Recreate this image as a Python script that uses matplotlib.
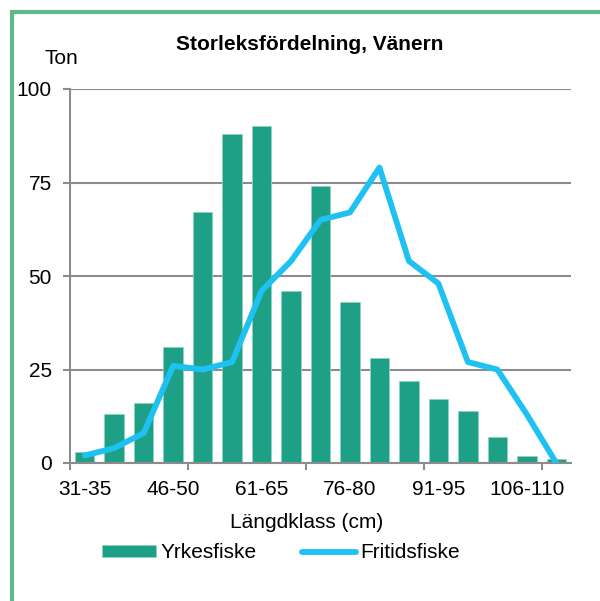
import numpy as np
import matplotlib
matplotlib.use("Agg")
import matplotlib.pyplot as plt
from matplotlib.patches import Rectangle

# Data
kategorier = ['31-35', '36-40', '41-45', '46-50', '51-55', '56-60', '61-65', '66-70',
              '71-75', '76-80', '81-85', '86-90', '91-95', '96-100', '101-105',
              '106-110', '111-115']
yrkesfiske = [3, 13, 16, 31, 67, 88, 90, 46, 74, 43, 28, 22, 17, 14, 7, 2, 1]
fritidsfiske = [2, 4, 8, 26, 25, 27, 46, 54, 65, 67, 79, 54, 48, 27, 25, 13, 0]
y_ticks = [0, 25, 50, 75, 100]

plt.rcParams['font.family'] = ['Liberation Sans', 'DejaVu Sans']

fig = plt.figure(figsize=(6, 6.01), dpi=100)
ax = fig.add_axes([70 / 600, 1 - 463 / 601, 501 / 600, 374 / 601])

grid_col = '#8c8c8c'
x = np.arange(len(kategorier))

# Bars and line
bars = ax.bar(x, yrkesfiske, width=0.66, color='#1ea086', edgecolor='#8fd3c2',
              linewidth=0.6, label='Yrkesfiske', zorder=2)
line, = ax.plot(x, fritidsfiske, color='#1fc1f2', linewidth=4.2, solid_capstyle='round',
                label='Fritidsfiske', zorder=3)

ax.set_xlim(-0.5, len(kategorier) - 0.5)
ax.set_ylim(0, 100)

# y axis
ax.set_yticks(y_ticks)
ax.tick_params(axis='y', length=5, width=1.5, color=grid_col, pad=8, labelsize=15)
ax.yaxis.grid(True, color=grid_col, linewidth=1.5, zorder=0)
ax.set_axisbelow(True)

# x axis: labels every 3rd class, tick marks every 4th boundary
ax.set_xticks(x[::3])
ax.set_xticklabels(kategorier[::3])
ax.set_xticks(np.arange(-0.5, len(kategorier), 4), minor=True)
ax.tick_params(axis='x', which='major', length=0, pad=12, labelsize=15)
ax.tick_params(axis='x', which='minor', length=5, width=1.5, color=grid_col)

for s in ['top', 'right']:
    ax.spines[s].set_visible(False)
for s in ['left', 'bottom']:
    ax.spines[s].set_color(grid_col)
    ax.spines[s].set_linewidth(1.5)

ax.set_xlabel('Längdklass (cm)', fontsize=15)
ax.xaxis.set_label_coords(0.473, -0.135)

fig.text(310 / 600, 1 - 45 / 601, 'Storleksfördelning, Vänern', fontsize=15,
         fontweight='bold', ha='center', va='center')
fig.text(61 / 600, 1 - 58 / 601, 'Ton', fontsize=15, ha='center', va='center')

leg = fig.legend([bars, line], ['Yrkesfiske', 'Fritidsfiske'], loc='center',
                 bbox_to_anchor=(281 / 600, 1 - 553 / 601), ncol=2,
                 frameon=False, fontsize=15, handlelength=2.6, handletextpad=0.2,
                 columnspacing=2.2, handleheight=0.55)

# green frame around the chart (left and top visible)
fig.patches.append(Rectangle((12 / 600, -0.1), 2, 1 - 12 / 601 + 0.1,
                             transform=fig.transFigure, fill=False,
                             edgecolor='#5dba8b', linewidth=3))

fig.savefig('out.png', dpi=100)
